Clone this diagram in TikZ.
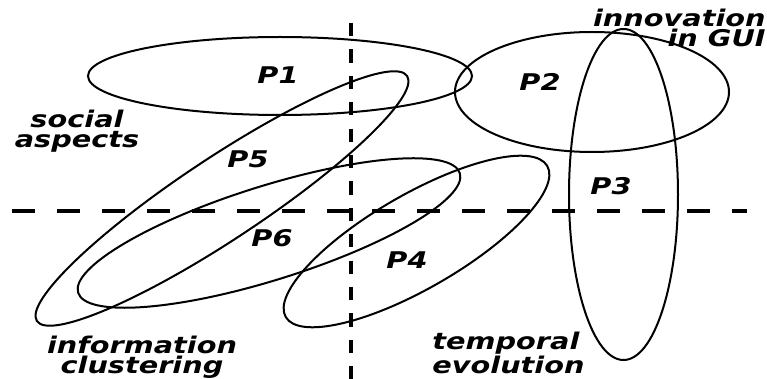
\documentclass[tikz,border=0pt]{standalone}
\usepackage{fontspec}
\newfontfamily\lblfont[FakeStretch=1.25]{DejaVu Sans}
\usetikzlibrary{positioning}

\begin{document}
\begin{tikzpicture}[x=0.5pt, y=-0.5pt,
  blob/.style={line width=1pt},
  split/.style={line width=2pt},
  lbl/.style={inner sep=0pt, font={\lblfont\bfseries\itshape\fontsize{11.5}{10}\selectfont}}]
  \useasboundingbox (0,0) rectangle (767,379);
  % axes
  \coordinate (vtop) at (351,23);
  \coordinate (vbot) at (351,379);
  \coordinate (hleft) at (12,211.5);
  \coordinate (hright) at (747,211.5);
  \draw[split, dash pattern=on 6.6pt off 6.6pt] (vtop) -- (vbot);
  \draw[split, dash pattern=on 11.5pt off 11pt] (hleft) -- (hright);
  % P1 .. P6
  \draw[blob] (280,76) ellipse [x radius=192, y radius=39];
  \draw[blob] (592,92) ellipse [x radius=137, y radius=60];
  \draw[blob] (623.5,194.5) ellipse [x radius=54.5, y radius=165.5];
  \draw[blob, rotate around={30:(416.5,241.5)}] (416.5,241.5) ellipse [x radius=151, y radius=47];
  \draw[blob, rotate around={33.5:(222,198.5)}] (222,198.5) ellipse [x radius=222, y radius=41];
  \draw[blob, rotate around={17.4:(269,233)}] (269,233) ellipse [x radius=200, y radius=47];
  \node[lbl] (p1) at (278,75) {P1};
  \node[lbl] (p2) at (540,82) {P2};
  \node[lbl] (p3) at (611,186) {P3};
  \node[lbl] (p4) at (407,260) {P4};
  \node[lbl] (p5) at (248,159) {P5};
  \node[lbl] (p6) at (272,238) {P6};
  % areas
  \node[lbl, align=center] (social) at (77,131) {social\\aspects};
  \node[lbl, align=right, anchor=east] (gui) at (766,28) {innovation\\in GUI};
  \node[lbl, align=center] (info) at (142,357) {information\\clustering};
  \node[lbl, align=left, anchor=west] (time) at (432,353) {temporal\\evolution};
\end{tikzpicture}
\end{document}
